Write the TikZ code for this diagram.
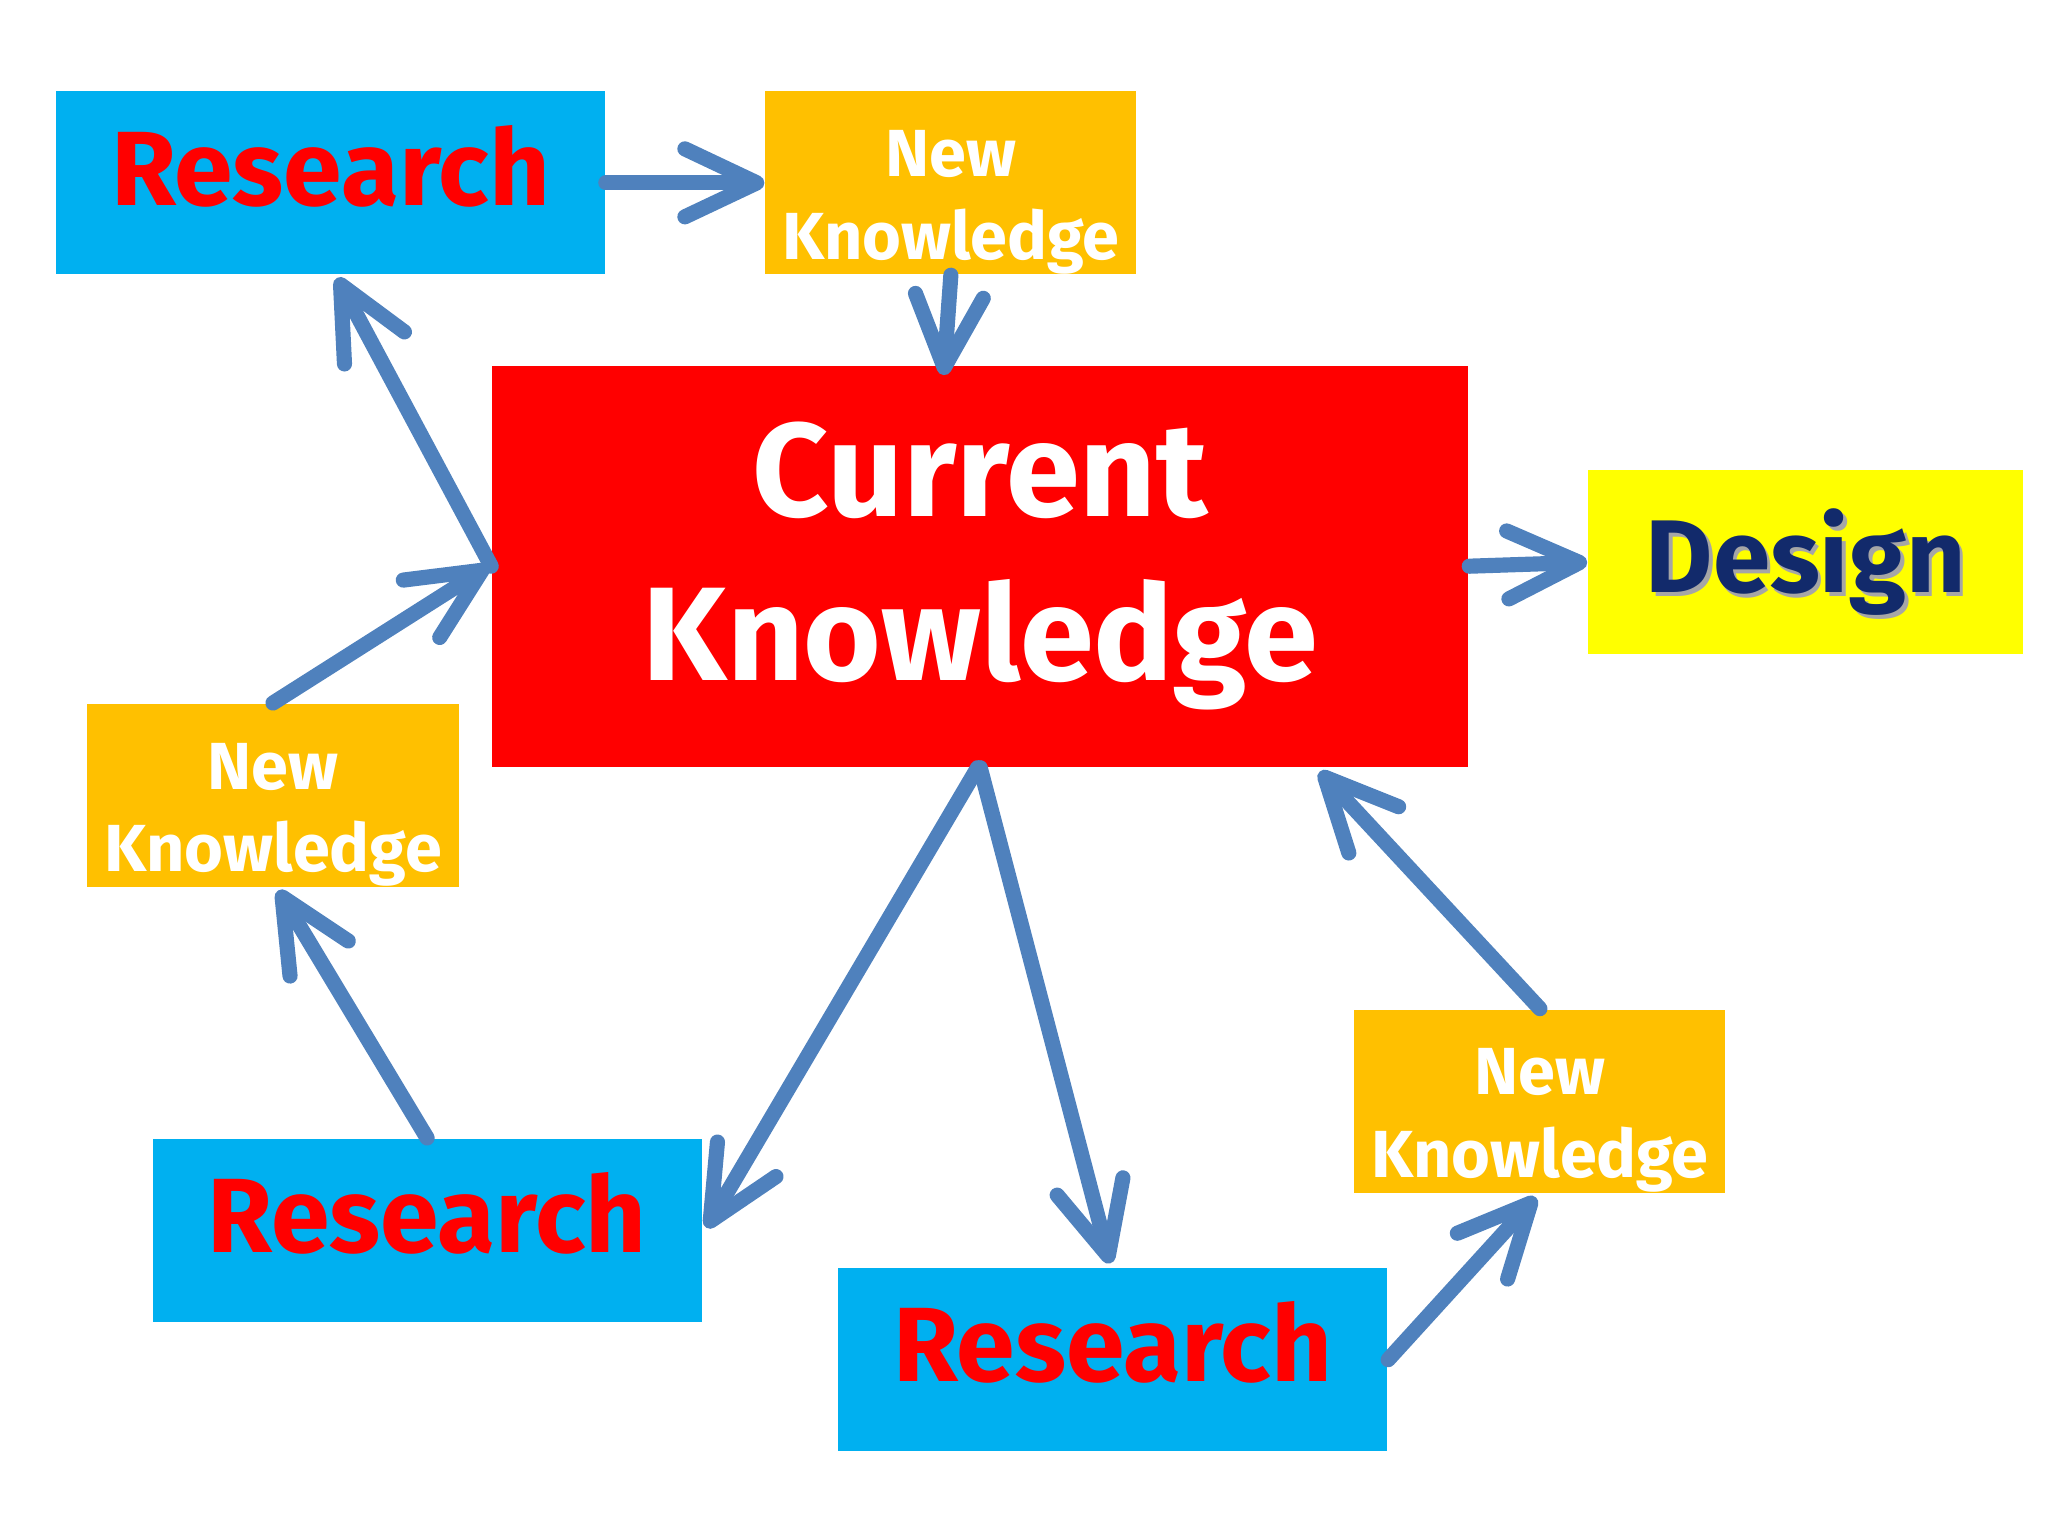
\documentclass[tikz,border=0pt]{standalone}
\usepackage{fontspec}
\setmainfont{Fira Sans}
\usetikzlibrary{calc,arrows.meta}
\definecolor{boxblue}{HTML}{00B0F0}
\definecolor{boxorange}{HTML}{FFC000}
\definecolor{boxred}{HTML}{FF0000}
\definecolor{boxyellow}{HTML}{FFFF00}
\definecolor{arrowblue}{HTML}{4F81BD}
\definecolor{designnavy}{HTML}{122A6B}

\begin{document}
\begin{tikzpicture}[x=0.01cm,y=-0.01cm,
    research/.style={fill=boxblue, minimum width=4.2cm, minimum height=1.4cm, inner sep=0pt,
        text height=0.6cm, text depth=0.26cm,
        text=boxred, font=\bfseries\fontsize{23}{26}\selectfont},
    newknow/.style={fill=boxorange, minimum width=2.84cm, minimum height=1.4cm, inner sep=0pt,
        text height=1.27cm, text depth=0.1cm,
        text=white, align=center, font=\bfseries\fontsize{14.5}{18}\selectfont},
    flow/.style={draw=arrowblue, line width=3.3pt, line cap=round,
        -{Straight Barb[length=5.5mm,width=5.2mm,round]}}]
    \useasboundingbox (0,0) rectangle (1568,1176);
    \node[research] (R1) at (253,140) {Research};
    \node[newknow] (N1) at (728,140) {New\\Knowledge};
    \node[fill=boxred, minimum width=7.47cm, minimum height=3.07cm, inner sep=0pt,
        text=white, align=center, font=\bfseries\fontsize{29}{35.6}\selectfont]
        (CK) at (750.5,433.5) {Current\\Knowledge};
    \node[fill=boxyellow, minimum width=3.33cm, minimum height=1.41cm, inner sep=0pt] (D) at (1382.5,430.5) {};
    \node[text=black!35, font=\bfseries\fontsize{22.5}{26}\selectfont] at ($(D)+(3,3)$) {Design};
    \node[text=designnavy, font=\bfseries\fontsize{22.5}{26}\selectfont] (DT) at (D) {Design};
    \node[newknow] (N2) at (209,609) {New\\Knowledge};
    \node[research] (R2) at (327,942) {Research};
    \node[research] (R3) at (852,1041) {Research};
    \node[newknow] (N3) at (1179,843) {New\\Knowledge};
    \draw[flow] (R1.east) -- (N1.west);
    \draw[flow] (N1.south) -- ($(CK.north)+(-28,8)$);
    \draw[flow] (CK.east) -- (D.west);
    \draw[flow] (CK.west) -- ($(R1.south)+(5,2)$);
    \draw[flow] (N2.north) -- ($(CK.west)+(-2,0)$);
    \draw[flow] (R2.north) -- ($(N2.south)+(4,2)$);
    \draw[flow] ($(CK.south)+(-2,0)$) -- ($(R2.east)+(3,-2)$);
    \draw[flow] (CK.south) -- ($(R3.north)+(-2,-3)$);
    \draw[flow] (R3.east) -- ($(N3.south)+(-3,3)$);
    \draw[flow] (N3.north) -- ($(CK.south west)!0.847!(CK.south east)+(0,3)$);
\end{tikzpicture}
\end{document}
